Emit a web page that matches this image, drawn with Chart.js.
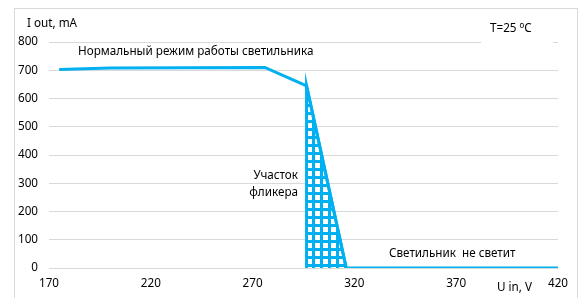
<!DOCTYPE html>
<html><head><meta charset="utf-8">
<script src="https://cdn.jsdelivr.net/npm/chart.js@4"></script>
<style>html,body{margin:0;padding:0;background:#fff;}#wrap{width:586px;height:298px;position:relative;}</style>
</head><body><div id="wrap"><canvas id="c" width="586" height="298"></canvas></div>
<script>
// Data
const curveX = [175, 200, 276, 296.5, 316, 420];
const curveY = [703, 708, 710, 645, 0, 0];
const flickerX = [296.5, 296.5, 316];
const flickerY = [0, 645, 0];
const xTicks = [170, 220, 270, 320, 370, 420];
const yTicks = [0, 100, 200, 300, 400, 500, 600, 700, 800];

const CYAN = '#00B0F0';
const FONT = '"Noto Sans", "Open Sans", sans-serif';
const FS = 11.7;

function makePattern(){
  const p = document.createElement('canvas');
  p.width = 8; p.height = 8;
  const g = p.getContext('2d');
  g.fillStyle = CYAN; g.fillRect(0,0,8,8);
  g.fillStyle = '#fff'; g.fillRect(3,3,5,5);
  return g.createPattern(p,'repeat');
}

const texts = {
  id:'texts',
  beforeDraw(chart){
    const c = chart.ctx;
    c.save();
    c.strokeStyle = '#D9D9D9'; c.lineWidth = 1;
    c.strokeRect(14.5, 8.5, 563, 300);
    c.restore();
  },
  afterDraw(chart){
    const c = chart.ctx;
    c.save();
    c.fillStyle = '#000';
    c.font = FS + 'px ' + FONT;
    c.textBaseline = 'middle';
    c.textAlign = 'left';
    c.fillText('I out, mA', 27, 24);
    c.fillText('U in, V', 497, 288);
    c.fillText('Нормальный режим работы светильника', 78, 52);
    c.fillText('Светильник  не светит', 389, 254);
    c.textAlign = 'right';
    c.fillText('Участок', 298, 176);
    c.fillText('фликера', 298, 193);
    // temperature label box
    c.fillStyle = '#fff';
    c.fillRect(481, 18, 72, 30);
    c.fillStyle = '#000';
    c.textAlign = 'left';
    c.fillText('T=25 ', 490, 29);
    const w = c.measureText('T=25 ').width;
    c.font = '8px ' + FONT;
    c.fillText('о', 490 + w, 26);
    const w2 = c.measureText('о').width;
    c.font = FS + 'px ' + FONT;
    c.fillText('C', 490 + w + w2, 29);
    c.restore();
  }
};

const chart = new Chart(document.getElementById('c'), {
  type: 'scatter',
  data: {
    datasets: [
      {
        data: flickerX.map((x,i)=>({x, y: flickerY[i]})),
        showLine: true,
        borderColor: CYAN,
        borderWidth: 3,
        backgroundColor: makePattern(),
        fill: 'origin',
        pointRadius: 0,
        order: 2
      },
      {
        data: curveX.map((x,i)=>({x, y: curveY[i]})),
        showLine: true,
        borderColor: CYAN,
        borderWidth: 3,
        fill: false,
        pointRadius: 0,
        order: 1
      }
    ]
  },
  options: {
    responsive: false,
    animation: false,
    devicePixelRatio: 1,
    layout: { padding: { left: 0, right: 28, top: 42, bottom: 0 } },
    plugins: { legend: { display: false }, tooltip: { enabled: false } },
    scales: {
      x: {
        type: 'linear', min: 170, max: 420,
        afterBuildTicks(s){ s.ticks = xTicks.map(v=>({value:v})); },
        afterFit(s){ s.height = 30; },
        grid: { display: false, drawTicks: false },
        border: { display: false },
        ticks: { color: '#000', font: { family: FONT, size: FS }, padding: 9, maxRotation: 0 }
      },
      y: {
        min: 0, max: 800,
        afterBuildTicks(s){ s.ticks = yTicks.map(v=>({value:v})); },
        afterFit(s){ s.width = 49; },
        grid: { color: '#D9D9D9', lineWidth: 1, drawTicks: false },
        border: { display: false },
        ticks: { color: '#000', font: { family: FONT, size: FS }, padding: 11 }
      }
    }
  },
  plugins: [texts]
});
</script></body></html>
